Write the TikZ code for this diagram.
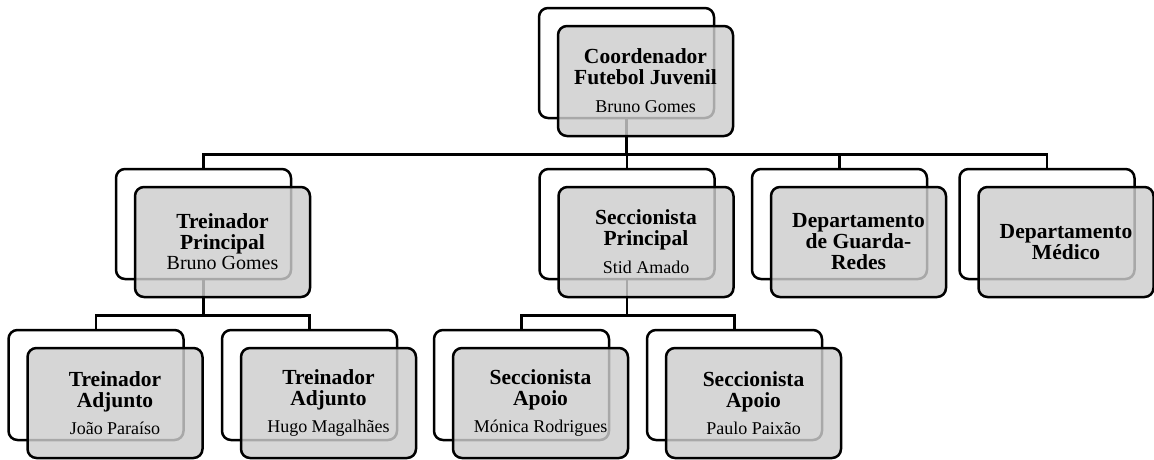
\documentclass[tikz,border=0pt]{standalone}
\usepackage{fontspec}
\setmainfont{Liberation Serif}
\usetikzlibrary{positioning}
\definecolor{boxgray}{RGB}{205,205,205}
\newcommand{\who}[2][18]{{\normalfont\fontsize{#1}{#1}\selectfont #2}}

\begin{document}
\begin{tikzpicture}[x=1pt,y=1pt,line width=2.5pt,node distance=161pt,
  back/.style={draw,fill=white,rounded corners=9pt,minimum width=175pt,minimum height=110pt,inner sep=0pt},
  front/.style={draw,fill=boxgray,fill opacity=0.82,text opacity=1,rounded corners=9pt,minimum width=175pt,minimum height=110pt,inner sep=0pt,align=center,font=\fontsize{21.5}{21}\selectfont\bfseries,xshift=19pt,yshift=-18pt},
  link/.style={line width=2.5pt}]

  \useasboundingbox (0,0) rectangle (1154,-459);

  % back boxes
  \node[back] (c0) at (626.5,-63) {};
  \node[back] (tp) [below of=c0, xshift=-423pt] {};
  \node[back] (sp) [below of=c0, xshift=0.5pt] {};
  \node[back] (gr) [below of=c0, xshift=213pt] {};
  \node[back] (dm) [below of=c0, xshift=420.5pt] {};
  \node[back] (ta1) [below of=tp, xshift=-107.5pt] {};
  \node[back] (ta2) [below of=tp, xshift=106pt] {};
  \node[back] (sa1) [below of=sp, xshift=-105.5pt] {};
  \node[back] (sa2) [below of=sp, xshift=107.5pt] {};

  % connectors
  \foreach \k in {tp,sp,gr,dm}
    \draw[link] (c0.south) -- ++(0,-35) -| (\k.north);
  \foreach \k in {ta1,ta2}
    \draw[link] (tp.south) -- ++(0,-35) -| (\k.north);
  \foreach \k in {sa1,sa2}
    \draw[link] (sp.south) -- ++(0,-35) -| (\k.north);

  % front boxes
  \node[front] (c0f) at (c0) {Coordenador\\Futebol Juvenil\\[7pt]\who{Bruno Gomes}};
  \node[front] (tpf) at (tp) {Treinador\\Principal\\[-1pt]\who[20]{Bruno Gomes}};
  \node[front] (spf) at (sp) {Seccionista\\Principal\\[7pt]\who{Stid Amado}};
  \node[front] (grf) at (gr) {Departamento\\de Guarda-\\Redes};
  \node[front] (dmf) at (dm) {Departamento\\Médico};
  \node[front] (ta1f) at (ta1) {Treinador\\Adjunto\\[6pt]\who{João Paraíso}};
  \node[front] (ta2f) at (ta2) {Treinador\\Adjunto\\[6pt]\who{Hugo Magalhães}};
  \node[front] (sa1f) at (sa1) {Seccionista\\Apoio\\[6pt]\who{Mónica Rodrigues}};
  \node[front] (sa2f) at (sa2) {Seccionista\\Apoio\\[6pt]\who{Paulo Paixão}};

\end{tikzpicture}
\end{document}
